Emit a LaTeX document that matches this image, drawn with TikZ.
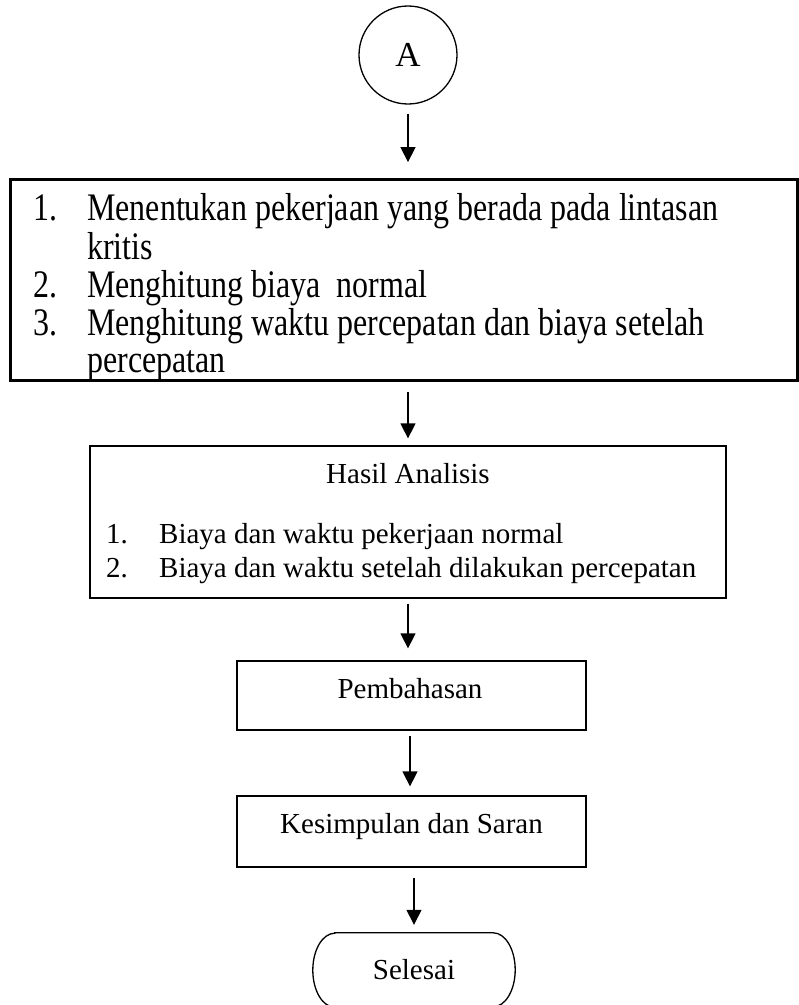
\documentclass[tikz,border=0pt]{standalone}
\usepackage{fontspec}
\setmainfont{Liberation Serif}
\newfontfamily\condfont{Liberation Serif}[FakeStretch=0.82]
\usetikzlibrary{arrows.meta}
\begin{document}
\begin{tikzpicture}[x=1pt,y=-1pt,
  frame/.style={draw, line width=1.3pt, inner sep=0pt},
  bigframe/.style={draw, line width=1.8pt, inner sep=0pt},
  arr/.style={line width=1.4pt, -{Triangle[length=15pt,width=15pt]}},
  bigtxt/.style={font=\condfont\fontsize{39}{38}\selectfont, anchor=base west, inner sep=0pt},
  smalltxt/.style={font=\fontsize{29}{34}\selectfont, inner sep=0pt},
  smallbase/.style={smalltxt, anchor=base west},
  smallmid/.style={smalltxt, anchor=base}]
\useasboundingbox (0,0) rectangle (799,1005);
% start connector
\node[frame, circle, minimum size=98pt, font=\fontsize{35}{40}\selectfont] (A) at (408,55) {A};
% box 1
\node[bigframe, minimum width=786pt, minimum height=200pt] (b1) at (404,280) {};
\begin{scope}
\clip (b1.north west) rectangle (b1.south east);
\node[bigtxt] (t11n) at (33,220) {1.};
\node[bigtxt] (t11) at (87,220) {Menentukan pekerjaan yang berada pada lintasan};
\node[bigtxt] (t12) at (87,259) {kritis};
\node[bigtxt] (t21n) at (33,297) {2.};
\node[bigtxt] (t21) at (87,297) {Menghitung biaya\ \ normal};
\node[bigtxt] (t31n) at (33,335) {3.};
\node[bigtxt] (t31) at (87,335) {Menghitung waktu percepatan dan biaya setelah};
\node[bigtxt] (t32) at (87,372) {percepatan};
\end{scope}
\draw[line width=1.8pt] (b1.north west) rectangle (b1.south east);
% box 2
\node[frame, minimum width=636pt, minimum height=152pt] (b2) at (408,522) {};
\node[smallmid] (h2) at (408,483) {Hasil Analisis};
\node[smallbase] (h21n) at (106,543) {1.};
\node[smallbase] (h21) at (159,543) {Biaya dan waktu pekerjaan normal};
\node[smallbase] (h22n) at (106,577) {2.};
\node[smallbase] (h22) at (159,577) {Biaya dan waktu setelah dilakukan percepatan};
% box 3
\node[frame, minimum width=349pt, minimum height=69pt] (b3) at (411.5,695.5) {};
\node[smallmid] (h3) at (410,698) {Pembahasan};
% box 4
\node[frame, minimum width=349pt, minimum height=71pt] (b4) at (411.5,831.5) {};
\node[smallmid] (h4) at (411.5,833) {Kesimpulan dan Saran};
% terminal
\node[smalltxt, minimum width=202pt, minimum height=74pt] (end) at (414,970) {Selesai};
\draw[line width=1.3pt] ([xshift=22pt]end.north west) -- ([xshift=-22pt]end.north east)
  arc[start angle=90, end angle=-90, x radius=22pt, y radius=37pt]
  -- ([xshift=22pt]end.south west)
  arc[start angle=270, end angle=90, x radius=22pt, y radius=37pt] -- cycle;
% connectors
\draw[arr, shorten <=9pt, shorten >=17pt] (A.south) -- (A.south |- b1.north);
\draw[arr, shorten <=11pt, shorten >=7pt] (b1.south -| A.south) -- (A.south |- b2.north);
\draw[arr, shorten <=5pt, shorten >=12pt] (b2.south) -- (b2.south |- b3.north);
\draw[arr, shorten <=5pt, shorten >=9pt] ([xshift=-1.5pt]b3.south) -- ([xshift=-1.5pt]b4.north);
\draw[arr, shorten <=10pt, shorten >=8pt] (b4.south -| end.north) -- (end.north);
\end{tikzpicture}
\end{document}
